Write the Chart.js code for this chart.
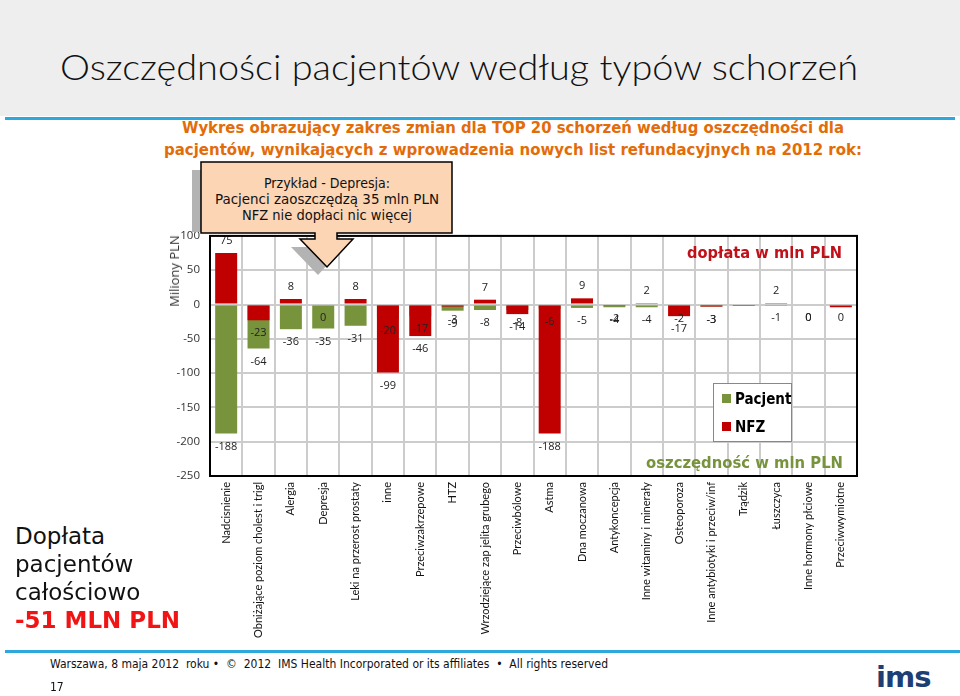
<!DOCTYPE html>
<html lang="pl">
<head>
<meta charset="utf-8">
<script src="https://cdn.jsdelivr.net/npm/chart.js@4.4.1/dist/chart.umd.min.js"></script>
<style>
  body { margin: 0; width: 960px; height: 696px; position: relative; overflow: hidden; background: #fff; font-family: "DejaVu Sans", sans-serif; }
  .abs { position: absolute; white-space: nowrap; }
  .header { position: absolute; left: 0; top: 0; width: 960px; height: 116px; background: #eeeeee; }
  .blueline { position: absolute; height: 3px; background: #2ea8dc; }
  .title { left: 60px; top: 46px; font: 300 35px Lato, sans-serif; line-height: 40px; color: #111; }
  .sub { font: bold 15px "DejaVu Sans Condensed", "DejaVu Sans", sans-serif; color: #e36c09; line-height: 20px; }
  .callout-text { font: 14px "DejaVu Sans Condensed", "DejaVu Sans", sans-serif; color: #111; line-height: 16px; }
  .chart-box { position: absolute; left: 160px; top: 219px; width: 710px; height: 431px; }
  .ytitle { left: 174px; top: 271px; font: 13px "Open Sans", sans-serif; color: #333; transform: translate(-50%, -50%) rotate(-90deg); }
  .note { font: bold 15px "DejaVu Sans", sans-serif; line-height: 20px; }
  .legend { left: 713px; top: 383px; width: 77px; height: 57px; border: 1px solid #888; background: #fff; }
  .legend div { position: absolute; left: 8px; font: bold 15px "DejaVu Sans Condensed", "DejaVu Sans", sans-serif; color: #000; line-height: 18px; }
  .legend span { display: inline-block; width: 9px; height: 9px; margin-right: 4px; vertical-align: 1px; }
  .left { left: 15px; font: 23px "DejaVu Sans", sans-serif; color: #111; line-height: 28px; }
  .footer { font: 12px "DejaVu Sans Condensed", "DejaVu Sans", sans-serif; color: #111; line-height: 16px; }
</style>
</head>
<body>
<div class="header"></div>
<div class="blueline" style="left:5px; top:117px; width:950px;"></div>
<div class="abs title" id="title">Oszczędności pacjentów według typów schorzeń</div>
<div class="abs sub" id="sub1" style="left:182px; top:118px;">Wykres obrazujący zakres zmian dla TOP 20 schorzeń według oszczędności dla</div>
<div class="abs sub" id="sub2" style="left:164px; top:140px;">pacjentów, wynikających z wprowadzenia nowych list refundacyjnych na 2012 rok:</div>

<div class="chart-box"><canvas id="chart"></canvas></div>

<svg class="abs" style="left:0; top:0;" width="960" height="300">
  <rect x="192" y="170" width="251" height="62" fill="#b3b3b3"/>
  <path d="M291,247 H344 L318,275 Z" fill="#b3b3b3"/>
  <path d="M201,162 H452 V233 H337 V239 H353 L327,267 L300,239 H315 V233 H201 Z" fill="#fcd5b5" stroke="#000" stroke-width="1.5"/>
</svg>
<div class="abs callout-text" id="c1" style="top:175px;">Przykład - Depresja:</div>
<div class="abs callout-text" id="c2" style="top:191px;">Pacjenci zaoszczędzą 35 mln PLN</div>
<div class="abs callout-text" id="c3" style="top:207px;">NFZ nie dopłaci nic więcej</div>

<div class="abs ytitle">Miliony PLN</div>
<div class="abs note" id="dop" style="left:687px; top:243px; color:#c0101a;">dopłata w mln PLN</div>
<div class="abs note" id="osz" style="left:646px; top:453px; color:#77933c;">oszczędność w mln PLN</div>
<div class="abs legend" id="legend"></div>

<div class="abs left" style="top:522px;">Dopłata</div>
<div class="abs left" style="top:550px;">pacjentów</div>
<div class="abs left" style="top:578px;">całościowo</div>
<div class="abs left" style="top:606px; font-weight:bold; color:#f01414;">-51 MLN PLN</div>

<div class="blueline" style="left:5px; top:650px; width:955px;"></div>
<div class="abs footer" id="foot" style="left:50px; top:656px;">Warszawa, 8 maja 2012&nbsp; roku • &nbsp;©&nbsp; 2012&nbsp; IMS Health Incorporated or its affiliates&nbsp; • &nbsp;All rights reserved</div>
<div class="abs footer" style="left:50px; top:679px;">17</div>
<div class="abs" style="left:876px; top:662px; font: bold 29px 'DejaVu Sans', sans-serif; color:#1d3f73; line-height:30px; letter-spacing:-1px;">ims</div>

<script>
const categories = [
  "Nadcisnienie", "Obniżające poziom cholest i trigl", "Alergia", "Depresja",
  "Leki na przerost prostaty", "inne", "Przeciwzakrzepowe", "HTZ",
  "Wrzodziejące zap jelita grubego", "Przeciwbólowe", "Astma", "Dna moczanowa",
  "Antykoncepcja", "Inne witaminy i minerały", "Osteoporoza",
  "Inne antybiotyki i przeciw/inf", "Trądzik", "Łuszczyca",
  "Inne hormony płciowe", "Przeciwwymiotne"
];
const pacjent = [-188, -64, -36, -35, -31, -20, -17, -9, -8, -8, -6, -5, -4, -4, -2, -3, -1, -1, 0, 0];
const nfz = [75, -23, 8, 0, 8, -99, -46, -3, 7, -14, -188, 9, -2, 2, -17, -3, -2, 2, 0, -4];
const yTicks = [100, 50, 0, -50, -100, -150, -200, -250];
// bars without a value label in the original
const noLabel = { pacjent: [16], nfz: [16, 19] };

const colors = { pacjent: "#77933c", nfz: "#c00000" };

const barLabels = {
  id: "barLabels",
  afterDatasetsDraw(chart) {
    const ctx = chart.ctx;
    ctx.save();
    ctx.font = "11px 'Open Sans', sans-serif";
    ctx.fillStyle = "#222";
    ctx.textAlign = "center";
    ctx.textBaseline = "middle";
    chart.data.datasets.forEach((ds, i) => {
      const meta = chart.getDatasetMeta(i);
      meta.data.forEach((bar, j) => {
        if (noLabel[ds.key].includes(j)) return;
        const v = ds.data[j];
        ctx.fillText(String(v), bar.x, v > 0 ? bar.y - 12 : bar.y + 13);
      });
    });
    ctx.restore();
  }
};

const frame = {
  id: "frame",
  afterDraw(chart) {
    const a = chart.chartArea, ctx = chart.ctx;
    ctx.save();
    ctx.strokeStyle = "#000";
    ctx.lineWidth = 2;
    ctx.strokeRect(a.left, a.top, a.right - a.left, a.bottom - a.top);
    ctx.restore();
  }
};

new Chart(document.getElementById("chart"), {
  type: "bar",
  data: {
    labels: categories,
    datasets: [
      { key: "pacjent", label: "Pacjent", data: pacjent, backgroundColor: colors.pacjent, order: 2 },
      { key: "nfz", label: "NFZ", data: nfz, backgroundColor: colors.nfz, order: 1 }
    ]
  },
  options: {
    responsive: true,
    maintainAspectRatio: false,
    animation: false,
    layout: { padding: { top: 3, right: 13, left: 0, bottom: 0 } },
    datasets: { bar: { grouped: false, barPercentage: 0.68, categoryPercentage: 1 } },
    plugins: { legend: { display: false }, tooltip: { enabled: false } },
    scales: {
      x: {
        grid: { color: "#cccccc", lineWidth: 2, drawTicks: false },
        border: { display: false },
        ticks: {
          autoSkip: false, minRotation: 90, maxRotation: 90, padding: 6,
          color: "#111", font: { family: "Lato", size: 11 }
        },
        afterFit(s) { s.height = 174; }
      },
      y: {
        min: -250, max: 100,
        afterBuildTicks(s) { s.ticks = yTicks.map(v => ({ value: v })); },
        grid: { color: "#cccccc", lineWidth: 2, drawTicks: false },
        border: { display: false },
        ticks: { padding: 10, color: "#333", font: { family: "Open Sans", size: 11.5 } },
        afterFit(s) { s.width = 50; }
      }
    }
  },
  plugins: [barLabels, frame]
});

// legend box
const legend = document.getElementById("legend");
[["Pacjent", colors.pacjent, 6], ["NFZ", colors.nfz, 34]].forEach(([t, c, top]) => {
  const d = document.createElement("div");
  d.style.top = top + "px";
  d.innerHTML = `<span style="background:${c}"></span>${t}`;
  legend.appendChild(d);
});

function fit(id, w, centerX) {
  const el = document.getElementById(id);
  const r = el.getBoundingClientRect().width;
  if (centerX !== undefined) el.style.left = (centerX - w / 2) + "px";
  el.style.transformOrigin = "left center";
  el.style.transform = `scaleX(${w / r})`;
}
fit("title", 798);
fit("sub1", 662);
fit("sub2", 698);
fit("c1", 126, 327);
fit("c2", 224, 327);
fit("c3", 170, 327);
fit("dop", 155);
fit("osz", 197);
fit("foot", 558);
</script>
</body>
</html>
